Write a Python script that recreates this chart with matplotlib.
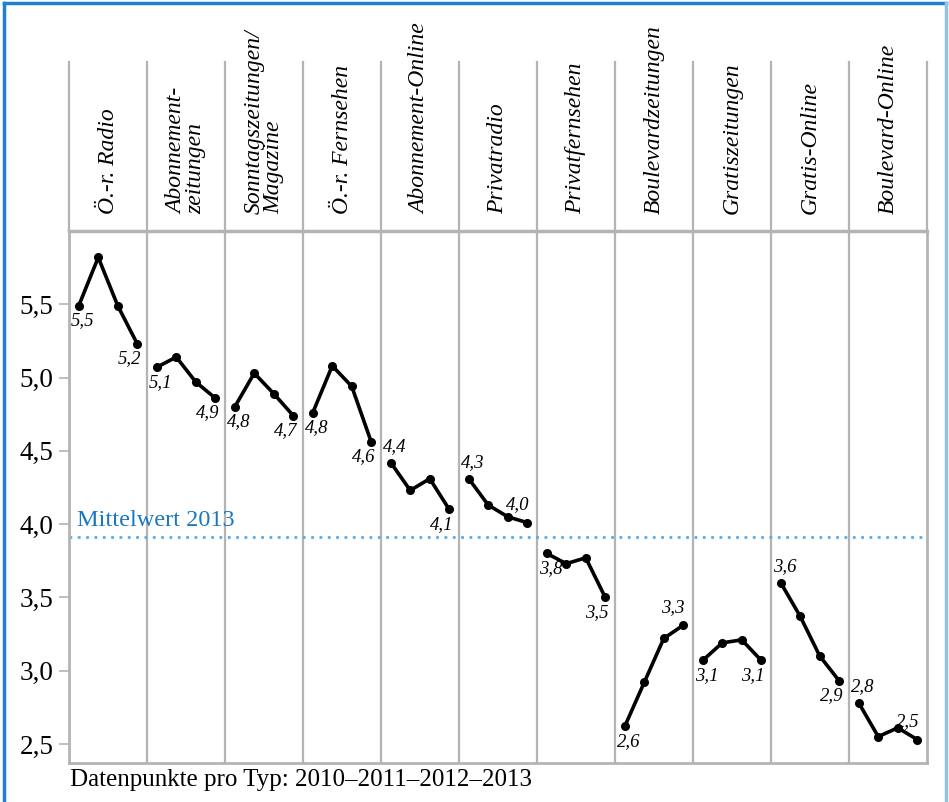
import numpy as np
import matplotlib
matplotlib.use("Agg")
import matplotlib.pyplot as plt
from matplotlib.lines import Line2D

# Mediengattungen (Kopfzeile) und Werte 2010-2013
typen = ["Ö.-r. Radio", "Abonnement-\nzeitungen", "Sonntagszeitungen/\nMagazine",
         "Ö.-r. Fernsehen", "Abonnement-Online", "Privatradio", "Privatfernsehen",
         "Boulevardzeitungen", "Gratiszeitungen", "Gratis-Online", "Boulevard-Online"]

radio_oer = [5.49, 5.82, 5.49, 5.23]
abo_zeitungen = [5.07, 5.14, 4.97, 4.86]
sonntag_magazine = [4.80, 5.03, 4.89, 4.74]
fernsehen_oer = [4.76, 5.08, 4.94, 4.56]
abo_online = [4.42, 4.23, 4.31, 4.10]
privatradio = [4.31, 4.13, 4.05, 4.01]
privatfernsehen = [3.80, 3.73, 3.77, 3.50]
boulevard_zeitungen = [2.62, 2.92, 3.22, 3.31]
gratis_zeitungen = [3.07, 3.19, 3.21, 3.07]
gratis_online = [3.60, 3.37, 3.10, 2.93]
boulevard_online = [2.78, 2.55, 2.61, 2.53]

werte = [radio_oer, abo_zeitungen, sonntag_magazine, fernsehen_oer, abo_online,
         privatradio, privatfernsehen, boulevard_zeitungen, gratis_zeitungen,
         gratis_online, boulevard_online]

# Beschriftungen: erster und letzter Wert (gerundet wie im Original)
label_erst = ["5,5", "5,1", "4,8", "4,8", "4,4", "4,3", "3,8", "2,6", "3,1", "3,6", "2,8"]
label_letzt = ["5,2", "4,9", "4,7", "4,6", "4,1", "4,0", "3,5", "3,3", "3,1", "2,9", "2,5"]
# Lage der Beschriftung: u = unten, o = oben
lage_erst = ["u", "u", "u", "u", "o", "o", "u", "u", "u", "o", "o"]
lage_letzt = ["u", "u", "u", "u", "u", "o", "u", "o", "u", "u", "o"]

mittelwert = 3.91
yticks = [2.5, 3.0, 3.5, 4.0, 4.5, 5.0, 5.5]

SERIF = "Liberation Serif"
GRAU = "#b4b4b4"
BLAU = "#1a78c2"

fig = plt.figure(figsize=(9.49, 8.02), dpi=100)
W, H = 949, 802

def pos(x0, y0, x1, y1):
    return [x0 / W, 1 - y1 / H, (x1 - x0) / W, (y1 - y0) / H]

ax = fig.add_axes(pos(69, 231, 927, 763))
kopf = fig.add_axes(pos(69, 62, 927, 231))

n = len(typen)
# Hauptdiagramm
for i, w in enumerate(werte):
    xs = i + (np.arange(4) + 0.5) / 4
    ax.plot(xs, w, color="black", lw=2.6, marker="o", ms=5.5, zorder=3)
    dy = -15 if lage_erst[i] == "u" else 16
    ax.annotate(label_erst[i], (xs[0], w[0]), xytext=(4, dy), textcoords="offset pixels",
                ha="center", va="center", fontsize=13.5, style="italic", family=SERIF)
    dy = -15 if lage_letzt[i] == "u" else 18
    dx = -8 if lage_letzt[i] == "u" else -10
    ax.annotate(label_letzt[i], (xs[3], w[3]), xytext=(dx, dy), textcoords="offset pixels",
                ha="center", va="center", fontsize=13.5, style="italic", family=SERIF)

for i in range(1, n):
    ax.axvline(i, color=GRAU, lw=1.6, zorder=1)

ax.axhline(mittelwert, color="#5aafe0", lw=2, ls=(0, (1, 2)), zorder=2)
ax.text(0.1, mittelwert + 0.04, "Mittelwert 2013", color=BLAU, fontsize=17.5,
        family=SERIF, ha="left", va="bottom")

ax.set_xlim(0, n)
ax.set_ylim(2.37, 6.0)
ax.set_xticks([])
ax.set_yticks(yticks)
ax.set_yticklabels([f"{v:.1f}".replace(".", ",") for v in yticks], family=SERIF, fontsize=19.5)
ax.tick_params(axis="y", length=7, width=1.2, color=GRAU, pad=4)
for s in ["left", "bottom", "right", "top"]:
    ax.spines[s].set_color(GRAU)
    ax.spines[s].set_linewidth(2)
ax.spines["top"].set_linewidth(2.5)

# Kopfzeile mit Typen
kopf.set_xlim(0, n)
kopf.set_ylim(0, 1)
kopf.axis("off")
for i in range(n + 1):
    kopf.plot([i, i], [0, 1], color=GRAU, lw=1.6, clip_on=False)
for i, t in enumerate(typen):
    kopf.text(i + 0.5, 0.1, t, rotation=90, ha="center", va="bottom", multialignment="left",
              fontsize=17, style="italic", family=SERIF, linespacing=0.9)

fig.text(70 / W, 1 - 780 / H, "Datenpunkte pro Typ: 2010–2011–2012–2013", family=SERIF,
         fontsize=18, ha="left", va="center")

# blauer Rahmen
fig.add_artist(Line2D([4 / W, 4 / W], [0, 1 - 3 / H], color="#1f7fd0", lw=2.5))
fig.add_artist(Line2D([4 / W, 946 / W], [1 - 3 / H, 1 - 3 / H], color="#1f7fd0", lw=2.5))
fig.add_artist(Line2D([946 / W, 946 / W], [0, 1 - 3 / H], color="#8ec3ea", lw=2.5))

fig.savefig("out.png", dpi=100)
